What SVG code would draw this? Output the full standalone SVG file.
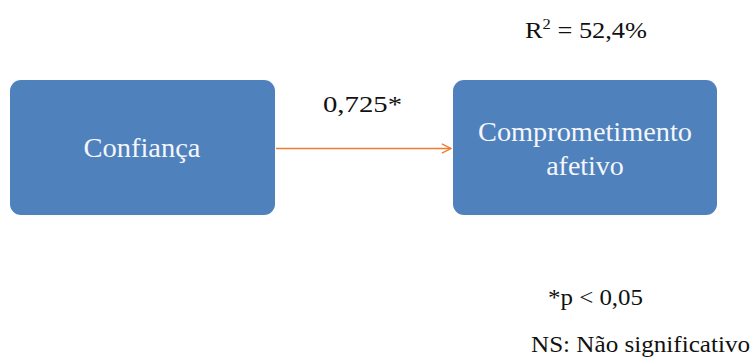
<svg xmlns="http://www.w3.org/2000/svg" width="754" height="358" viewBox="0 0 754 358">
  <defs>
    <style>
      .box { fill: #4F81BD; }
      .boxtext { font-family: "Liberation Serif", "Times New Roman", serif; font-size: 28px; fill: #F4F6FA; text-anchor: middle; }
      .label { font-family: "Liberation Serif", "Times New Roman", serif; font-size: 24px; fill: #111; }
      .link { stroke: #ED7D31; stroke-width: 1.5; fill: none; }
    </style>
    <marker id="open-arrow" viewBox="0 0 12 12" refX="11" refY="6" markerWidth="11" markerHeight="11" markerUnits="userSpaceOnUse" orient="auto">
      <path d="M1,1 L11,6 L1,11" fill="none" stroke="#ED7D31" stroke-width="1.5"/>
    </marker>
  </defs>

  <rect width="754" height="358" fill="#FFFFFF"/>

  <g id="connectors">
    <line class="link" x1="276" y1="148.5" x2="451" y2="148.5" marker-end="url(#open-arrow)"/>
  </g>

  <g id="node-confianca">
    <rect class="box" x="10" y="80" width="265" height="135" rx="11"/>
    <text class="boxtext" x="142" y="157" textLength="117" lengthAdjust="spacingAndGlyphs">Confiança</text>
  </g>

  <g id="node-comprometimento">
    <rect class="box" x="453" y="80" width="264" height="135" rx="11"/>
    <text class="boxtext" x="585" y="141" textLength="214" lengthAdjust="spacingAndGlyphs">Comprometimento</text>
    <text class="boxtext" x="585" y="175">afetivo</text>
  </g>

  <g id="labels">
    <text class="label" x="323" y="112" textLength="79" lengthAdjust="spacingAndGlyphs">0,725*</text>
    <text class="label" x="525" y="38" textLength="122" lengthAdjust="spacingAndGlyphs">R<tspan font-size="15" dy="-9">2</tspan><tspan dy="9"> = 52,4%</tspan></text>
    <text class="label" x="548" y="305" textLength="95" lengthAdjust="spacingAndGlyphs">*p &lt; 0,05</text>
    <text class="label" x="531" y="352" textLength="219" lengthAdjust="spacingAndGlyphs">NS: Não significativo</text>
  </g>
</svg>
